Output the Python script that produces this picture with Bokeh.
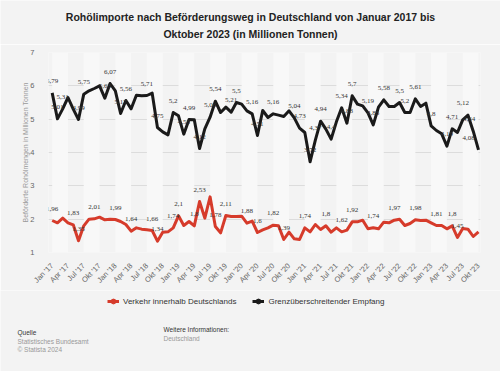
import math
from bokeh.plotting import figure
from bokeh.layouts import column
from bokeh.models import (ColumnDataSource, Range1d, FixedTicker, Label, LabelSet,
                          Legend, LegendItem)
from bokeh.embed import file_html
from bokeh.resources import INLINE

# ---------------- data ----------------
month_names = ["Jan", "Feb", "Mär", "Apr", "Mai", "Jun", "Jul", "Aug", "Sep", "Okt", "Nov", "Dez"]
months = [f"{m} {y}" for y in range(2017, 2024) for m in month_names][:82]

inland = [1.96, 1.89, 2.03, 1.89, 1.83, 1.35, 1.80, 2.00, 2.01, 2.06, 1.98, 2.00,
          1.99, 1.93, 1.84, 1.64, 1.74, 1.70, 1.68, 1.66, 1.34, 1.61, 1.62, 1.74,
          2.10, 1.81, 1.93, 1.80, 2.53, 2.03, 2.67, 1.78, 1.59, 2.11, 2.08, 2.08,
          2.09, 1.88, 1.94, 1.60, 1.68, 1.74, 1.82, 1.80, 1.39, 1.61, 1.41, 1.39,
          1.74, 1.62, 1.84, 1.69, 1.80, 1.61, 1.74, 1.62, 1.67, 1.92, 1.92, 1.97,
          1.71, 1.74, 1.71, 1.91, 1.89, 1.97, 2.00, 1.81, 1.87, 1.98, 1.96, 1.97,
          1.89, 1.81, 1.81, 1.71, 1.80, 1.45, 1.72, 1.70, 1.48, 1.62]

cross = [5.79, 5.01, 5.31, 5.65, 5.30, 4.99, 5.75, 5.85, 5.92, 6.00, 5.63, 6.07,
         5.85, 5.17, 5.56, 5.31, 5.72, 5.70, 5.71, 5.78, 4.75, 4.62, 4.53, 5.20,
         5.10, 4.55, 4.99, 4.98, 4.12, 4.71, 5.06, 5.54, 5.20, 5.36, 5.21, 5.50,
         5.45, 5.25, 5.16, 4.51, 5.26, 5.05, 5.16, 5.12, 5.08, 5.25, 5.04, 4.73,
         4.60, 3.72, 4.37, 4.94, 4.70, 4.40, 4.92, 5.34, 4.88, 5.70, 5.45, 5.40,
         5.19, 4.83, 5.36, 5.58, 5.38, 5.38, 5.50, 5.20, 5.20, 5.61, 5.38, 5.48,
         4.80, 4.66, 4.56, 4.19, 4.71, 4.60, 4.98, 5.12, 4.64, 4.08]

tick_labels = ["Jan '17", "Apr '17", "Jul '17", "Okt '17",
               "Jan '18", "Apr '18", "Jul '18", "Okt '18",
               "Jan '19", "Apr '19", "Jul '19", "Okt '19",
               "Jan '20", "Apr '20", "Jul '20", "Okt '20",
               "Jan '21", "Apr '21", "Jul '21", "Okt '21",
               "Jan '22", "Apr '22", "Jul '22", "Okt '22",
               "Jan '23", "Apr '23", "Jul '23", "Okt '23"]

inland_labelled = [0, 4, 5, 8, 12, 15, 19, 20, 23, 24, 27, 28, 31, 33, 37, 39, 42, 44,
                   48, 52, 55, 57, 61, 65, 69, 73, 76, 77]
cross_labelled = [0, 1, 2, 5, 6, 10, 11, 13, 14, 18, 20, 23, 25, 26, 28, 30, 31, 34, 35,
                  38, 39, 42, 46, 47, 49, 50, 51, 53, 55, 56, 57, 60, 61, 63, 66, 67, 69,
                  72, 75, 76, 79, 80, 81]
label_shift = {79: -5, 80: -4, 81: -10}   # labels pushed inside at the right edge

series_names = ["Verkehr innerhalb Deutschlands", "Grenzüberschreitender Empfang"]
title_lines = ["Rohölimporte nach Beförderungsweg in Deutschland von Januar 2017 bis",
               "Oktober 2023 (in Millionen Tonnen)"]
y_title = "Beförderte Rohölmengen in Millionen Tonnen"

# ---------------- styling ----------------
BG = "#f3f3f3"
BAND = "#f8f8f8"
RED = "#d63b2b"
BLACK = "#1a1a1a"
FONT = "Liberation Sans"
W = 500
H_HEAD = 44
H_MAIN = 246
H_FOOT = 81

x = list(range(len(months)))


def fmt(v):
    return f"{v:.2f}".rstrip("0").rstrip(".").replace(".", ",")


def text_panel(height):
    """A frame-only figure whose data units are its own pixels (y downwards)."""
    fig = figure(width=W, height=height, output_backend="svg", toolbar_location=None,
                 title=None, frame_align=False,
                 x_range=Range1d(0, W), y_range=Range1d(height, 0),
                 x_axis_location=None, y_axis_location=None,
                 min_border=0, min_border_left=0, min_border_right=0, min_border_top=0,
                 min_border_bottom=0,
                 background_fill_color=BG, border_fill_color=BG, outline_line_color=None)
    fig.grid.visible = False
    return fig


# ---------------- header (title) ----------------
h = text_panel(H_HEAD)
for txt, yy in zip(title_lines, (16, 33)):
    h.add_layout(Label(x=250, y=yy, text=txt, text_align="center", text_baseline="middle",
                       text_font=FONT, text_font_size="10.5px", text_font_style="bold",
                       text_color="#222222"))

# ---------------- main chart ----------------
p = figure(width=W, height=H_MAIN, output_backend="svg", toolbar_location=None,
           title=None, x_range=Range1d(-0.70, 81.38), y_range=Range1d(1, 7),
           frame_align=False,
           min_border_left=48, min_border_right=20, min_border_top=8, min_border_bottom=37,
           background_fill_color=BG, border_fill_color=BG, outline_line_color=None)

# alternating quarter bands
band_left = [t for t in range(0, len(months), 6)]
band_right = [min(t + 3, len(months) - 1) for t in band_left]
p.quad(left=band_left, right=band_right, bottom=1, top=7,
       fill_color=BAND, line_color=None)

r_in = p.line(x, inland, line_color=RED, line_width=3, line_join="round")
r_cr = p.line(x, cross, line_color=BLACK, line_width=3, line_join="round")

# data labels
lx, ly, lt, ldx = [], [], [], []
for series, idxs in ((inland, inland_labelled), (cross, cross_labelled)):
    for i in idxs:
        lx.append(x[i])
        ly.append(series[i])
        lt.append(fmt(series[i]))
        ldx.append(label_shift.get(i, 0) if series is cross else 0)
lab_src = ColumnDataSource(dict(x=lx, y=ly, t=lt, dx=ldx))
p.add_layout(LabelSet(x="x", y="y", text="t", source=lab_src, x_offset="dx", y_offset=12,
                      text_align="center", text_baseline="middle",
                      text_font=FONT, text_font_size="7px", text_color="#333333"))

# axes
p.xaxis.ticker = FixedTicker(ticks=list(range(0, len(months), 3)))
p.xaxis.major_label_overrides = {i * 3: lab for i, lab in enumerate(tick_labels)}
p.xaxis.major_label_orientation = math.pi / 4
p.yaxis.ticker = FixedTicker(ticks=[1, 2, 3, 4, 5, 6, 7])
for ax in (p.xaxis[0], p.yaxis[0]):
    ax.axis_line_color = None
    ax.major_tick_line_color = None
    ax.minor_tick_line_color = None
    ax.major_label_text_font = FONT
    ax.major_label_text_color = "#666666"
p.xaxis.major_label_text_font_size = "7.5px"
p.xaxis.major_label_standoff = 6
p.yaxis.major_label_text_font_size = "7.5px"
p.yaxis.major_label_standoff = 8
p.yaxis.axis_label = y_title
p.yaxis.axis_label_text_font = FONT
p.yaxis.axis_label_text_font_size = "7px"
p.yaxis.axis_label_text_font_style = "normal"
p.yaxis.axis_label_text_color = "#999999"
p.yaxis.axis_label_standoff = -2
p.xgrid.visible = False
p.ygrid.grid_line_color = "#dcdcdc"
p.ygrid.grid_line_width = 1

# ---------------- footer (legend + source notes) ----------------
f = text_panel(H_FOOT)

# legend swatch renderers (a single undefined point: nothing drawn in the plot)
nan = float("nan")
g_in_l = f.line(x=[nan], y=[nan], line_color=RED, line_width=3)
g_in_m = f.scatter(x=[nan], y=[nan], marker="circle", size=7, fill_color=RED, line_color=RED)
g_cr_l = f.line(x=[nan], y=[nan], line_color=BLACK, line_width=3)
g_cr_m = f.scatter(x=[nan], y=[nan], marker="circle", size=7, fill_color=BLACK,
                   line_color=BLACK)

legend = Legend(items=[LegendItem(label=series_names[0], renderers=[g_in_l, g_in_m]),
                       LegendItem(label=series_names[1], renderers=[g_cr_l, g_cr_m])],
                orientation="horizontal", location=(107, 64),
                padding=0, margin=0, spacing=16, label_standoff=4,
                glyph_width=12, glyph_height=12, label_height=10,
                label_text_font=FONT, label_text_font_size="8px", label_text_color="#333333",
                border_line_color=None, background_fill_alpha=0)
f.add_layout(legend, "center")

footer = [("Quelle", 17, 42, "#333333"),
          ("Statistisches Bundesamt", 17, 50.7, "#999999"),
          ("© Statista 2024", 17, 59, "#999999"),
          ("Weitere Informationen:", 163, 39.3, "#333333"),
          ("Deutschland", 163, 47.7, "#999999")]
for txt, xx, yy, col in footer:
    f.add_layout(Label(x=xx, y=yy, text=txt, text_align="left", text_baseline="middle",
                       text_font=FONT, text_font_size="6.5px", text_color=col))

layout = column(h, p, f, spacing=0)
open("out.html", "w").write(file_html(layout, INLINE))
